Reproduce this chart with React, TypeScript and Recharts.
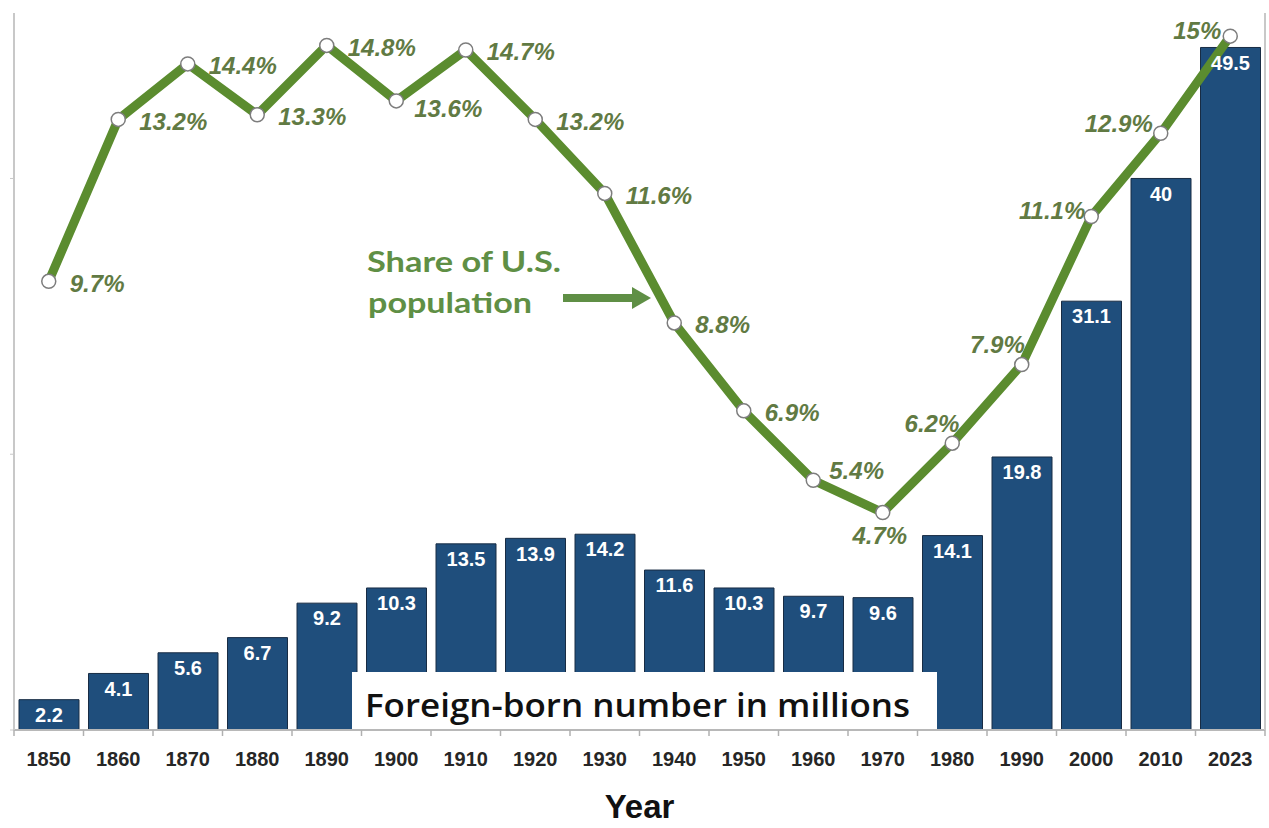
import { ComposedChart, Bar, Line, XAxis, YAxis, LabelList } from "recharts";

const years = ["1850", "1860", "1870", "1880", "1890", "1900", "1910", "1920", "1930", "1940", "1950", "1960", "1970", "1980", "1990", "2000", "2010", "2023"];
const foreignBorn = [2.2, 4.1, 5.6, 6.7, 9.2, 10.3, 13.5, 13.9, 14.2, 11.6, 10.3, 9.7, 9.6, 14.1, 19.8, 31.1, 40, 49.5];
const sharePct = [9.7, 13.2, 14.4, 13.3, 14.8, 13.6, 14.7, 13.2, 11.6, 8.8, 6.9, 5.4, 4.7, 6.2, 7.9, 11.1, 12.9, 15];

const data = years.map((year, i) => ({ year, foreignBorn: foreignBorn[i], share: sharePct[i] }));

const BAR_BLUE = "#1f4e7c";
const LINE_GREEN = "#5b8c2f";
const LABEL_GREEN = "#617a43";
const NOTE_GREEN = "#5f8f45";

// where each share label sits relative to its point (dx, dy, anchor)
const labelSpot: Record<string, [number, number, "start" | "middle" | "end"]> = {
  "1900": [18, 8, "start"],
  "1960": [16, -10, "start"],
  "1970": [-3, 23, "middle"],
  "1980": [7, -20, "end"],
  "1990": [3, -20, "end"],
  "2000": [-6, -6, "end"],
  "2010": [-8, -10, "end"],
  "2023": [-9, -6, "end"],
};

function ShareLabel(props: any) {
  const { x, y, value, index } = props;
  const spot = labelSpot[years[index]] || [21, 2, "start"];
  return (
    <text
      x={x + spot[0]}
      y={y + spot[1]}
      dy="0.35em"
      textAnchor={spot[2]}
      fill={LABEL_GREEN}
      fontSize={24}
      fontWeight="bold"
      fontStyle="italic"
      fontFamily="'Liberation Sans', Arial, sans-serif"
    >
      {value}%
    </text>
  );
}

function YearTick(props: any) {
  const { x, y, payload, index } = props;
  const half = payload.offset ?? 34.75;
  return (
    <g>
      <line x1={x - half} x2={x - half} y1={y} y2={y + 6} stroke="#b0b0b0" strokeWidth={1.5} />
      {index === years.length - 1 && (
        <line x1={x + half} x2={x + half} y1={y} y2={y + 6} stroke="#b0b0b0" strokeWidth={1.5} />
      )}
      <text
        x={x}
        y={y + 36}
        textAnchor="middle"
        fill="#262626"
        fontSize={20}
        fontWeight="bold"
        fontFamily="'Liberation Sans', Arial, sans-serif"
      >
        {payload.value}
      </text>
    </g>
  );
}

export default function App() {
  return (
    <div style={{ position: "absolute", left: 0, top: 0, width: 1269, height: 828, background: "#fff" }}>
      <ComposedChart
        width={1269}
        height={828}
        data={data}
        margin={{ top: 13, right: 0, left: 0, bottom: 0 }}
        barCategoryGap={5}
      >
        <XAxis
          dataKey="year"
          interval={0}
          height={98}
          tickLine={false}
          tickSize={0}
          tickMargin={0}
          tick={<YearTick />}
          axisLine={{ stroke: "#b8b8b8", strokeWidth: 2 }}
          label={{
            value: "Year",
            position: "insideBottom",
            offset: 10,
            fill: "#111",
            fontSize: 33,
            fontWeight: "bold",
            fontFamily: "'Liberation Sans', Arial, sans-serif",
          }}
        />
        <YAxis
          yAxisId="num"
          width={14}
          domain={[0, 52]}
          ticks={[0, 20, 40]}
          tickSize={4}
          tickFormatter={() => ""}
          axisLine={{ stroke: "#c8c8c8", strokeWidth: 2 }}
          tickLine={{ stroke: "#c8c8c8" }}
        />
        <YAxis
          yAxisId="pct"
          orientation="right"
          width={4}
          domain={[0, 15.5]}
          ticks={[0]}
          tickSize={0}
          tickFormatter={() => ""}
          axisLine={{ stroke: "#c8c8c8", strokeWidth: 2 }}
        />
        <Bar yAxisId="num" dataKey="foreignBorn" fill={BAR_BLUE} stroke="#182c44" strokeWidth={1} isAnimationActive={false}>
          <LabelList
            dataKey="foreignBorn"
            position="insideTop"
            offset={8}
            fill="#fff"
            fontSize={20}
            fontWeight="bold"
            fontFamily="'Liberation Sans', Arial, sans-serif"
          />
        </Bar>
        <Line
          yAxisId="pct"
          dataKey="share"
          stroke={LINE_GREEN}
          strokeWidth={9}
          dot={{ r: 7, fill: "#fff", stroke: "#7d7d7d", strokeWidth: 1.5 }}
          isAnimationActive={false}
        >
          <LabelList dataKey="share" content={<ShareLabel />} />
        </Line>
      </ComposedChart>

      <svg style={{ position: "absolute", left: 0, top: 0, pointerEvents: "none" }} width={1269} height={828}>
        <rect x={352} y={672} width={585} height={57} fill="#fff" />
        <text
          x={365}
          y={717}
          textLength={545}
          lengthAdjust="spacingAndGlyphs"
          fontFamily="'Open Sans', Lato, sans-serif"
          fontWeight={600}
          fontSize={33}
          fill="#111"
        >
          Foreign-born number in millions
        </text>

        <g fontFamily="Lato, 'Open Sans', sans-serif" fontWeight="bold" fontSize={28} fill={NOTE_GREEN}>
          <text x={367} y={272} textLength={194} lengthAdjust="spacingAndGlyphs">
            Share of U.S.
          </text>
          <text x={368} y={313} textLength={164} lengthAdjust="spacingAndGlyphs">
            population
          </text>
        </g>
        <line x1={563} y1={298} x2={636} y2={298} stroke={NOTE_GREEN} strokeWidth={8} />
        <polygon points="632,287 651,298 632,309" fill={NOTE_GREEN} />
      </svg>
    </div>
  );
}
